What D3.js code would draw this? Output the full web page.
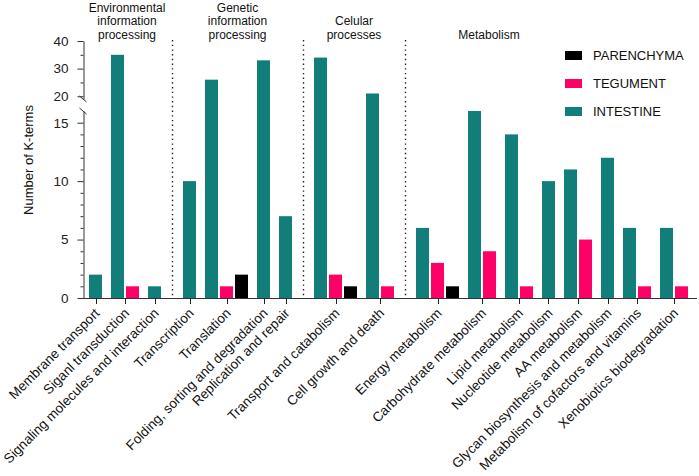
<!DOCTYPE html>
<html>
<head>
<meta charset="utf-8">
<script src="https://cdn.jsdelivr.net/npm/d3@7"></script>
<style>
  html, body { margin: 0; padding: 0; background: #fff; }
  svg { display: block; font-family: "Liberation Sans", Arial, sans-serif; }
</style>
</head>
<body>
<svg id="chart" width="699" height="476"></svg>
<script>
// ---------------- data ----------------
const categories = [
  "Membrane transport", "Siganl transduction", "Signaling molecules and interaction",
  "Transcription", "Translation", "Folding, sorting and degradation", "Replication and repair",
  "Transport and catabolism", "Cell growth and death",
  "Energy metabolism", "Carbohydrate metabolism", "Lipid metabolism", "Nucleotide metabolism",
  "AA metabolism", "Glycan biosynthesis and metabolism", "Metabolism of cofactors and vitamins",
  "Xenobiotics biodegradation"
];
const groupOfCategory = [0,0,0, 1,1,1,1, 2,2, 3,3,3,3,3,3,3,3];
const groupNames = [
  ["Environmental", "information", "processing"],
  ["Genetic", "information", "processing"],
  ["Celular", "processes"],
  ["Metabolism"]
];
const seriesNames = ["PARENCHYMA", "TEGUMENT", "INTESTINE"];
const seriesColors = ["#000000", "#FF0066", "#127E7A"];
const parenchyma = [0,0,0, 0,2,0,0, 1,0, 1,0,0,0,0,0,0,0];
const tegument   = [0,1,0, 0,1,0,0, 2,1, 3,4,1,0,5,0,1,1];
const intestine  = [2,35,1, 10,26,33,7, 34,21, 6,16,14,10,11,12,6,6];
const lowTicks = [0, 5, 10, 15];
const highTicks = [20, 30, 40];

// ---------------- layout ----------------
const svg = d3.select("#chart");
const font = "\"Liberation Sans\", Arial, sans-serif";
const axisX = 83, baseY = 298;

// slot layout: each non-zero bar takes one slot; gaps between categories / groups
const catGap = 7 / 15, groupGap = 20 / 15, barFrac = 13 / 15;
const bars = [];
const catInfo = [];
let cursor = 0;
categories.forEach((c, i) => {
  if (i > 0) cursor += (groupOfCategory[i] === groupOfCategory[i - 1]) ? catGap : groupGap;
  const start = cursor;
  // drawing order: intestine, tegument, parenchyma (non-zero only)
  [[2, intestine[i]], [1, tegument[i]], [0, parenchyma[i]]].forEach(([s, v]) => {
    if (v > 0) { bars.push({cat: i, series: s, value: v, slot: cursor}); cursor += 1; }
  });
  catInfo.push({start, end: cursor - (1 - barFrac)});
});
const totalSlots = cursor;
const x = d3.scaleLinear().domain([0, totalSlots]).range([89, 89 + 15 * totalSlots]);

// broken y scale
const yLow = d3.scaleLinear().domain([0, 16]).range([baseY, 111]);
const yHigh = d3.scaleLinear().domain([19, 40]).range([99, 41]);
const y = v => (v <= 16 ? yLow(v) : yHigh(v));

// ---------------- separators ----------------
const groupBounds = groupNames.map((g, gi) => {
  const idx = categories.map((c, i) => i).filter(i => groupOfCategory[i] === gi);
  return {start: catInfo[idx[0]].start, end: catInfo[idx[idx.length - 1]].end};
});
for (let gi = 1; gi < groupBounds.length; gi++) {
  const sx = Math.round((x(groupBounds[gi - 1].end) + x(groupBounds[gi].start)) / 2) + 0.5;
  svg.append("line")
    .attr("x1", sx).attr("x2", sx).attr("y1", 40).attr("y2", baseY)
    .attr("stroke", "#222").attr("stroke-width", 1.4)
    .attr("stroke-dasharray", "1.4,3.3");
}

// ---------------- bars ----------------
svg.append("g").selectAll("rect").data(bars).join("rect")
  .attr("x", d => x(d.slot))
  .attr("width", x(barFrac) - x(0))
  .attr("y", d => y(d.value))
  .attr("height", d => baseY - y(d.value))
  .attr("fill", d => seriesColors[d.series]);

// ---------------- y axis ----------------
svg.append("g").attr("transform", `translate(${axisX + 0.5},0)`)
  .call(d3.axisLeft(yLow).tickValues(lowTicks).tickSize(6).tickSizeOuter(0).tickPadding(9));
svg.append("g").attr("transform", `translate(${axisX + 0.5},0)`)
  .call(d3.axisLeft(yHigh).tickValues(highTicks).tickSize(6).tickSizeOuter(0).tickPadding(9));
const lowMinor = d3.range(1, 16).filter(v => v % 5 !== 0);
svg.append("g").attr("transform", `translate(${axisX + 0.5},0)`)
  .call(d3.axisLeft(yLow).tickValues(lowMinor).tickSize(3).tickSizeOuter(0).tickFormat(""))
  .select(".domain").remove();
svg.append("g").attr("transform", `translate(${axisX + 0.5},0)`)
  .call(d3.axisLeft(yHigh).tickValues([25, 35]).tickSize(3).tickSizeOuter(0).tickFormat(""))
  .select(".domain").remove();
svg.selectAll(".tick text").attr("font-family", font).attr("font-size", 13.5).attr("fill", "#222");
svg.selectAll(".domain, .tick line").attr("stroke", "#333");

// break marks
[yHigh(19), yLow(16)].forEach(by => {
  svg.append("line")
    .attr("x1", axisX - 3.5).attr("x2", axisX + 3.5)
    .attr("y1", by - 3).attr("y2", by + 3)
    .attr("stroke", "#333").attr("stroke-width", 1);
});

// y title
svg.append("text")
  .attr("transform", `translate(33,160) rotate(-90)`)
  .attr("text-anchor", "middle")
  .attr("font-family", font).attr("font-size", 13).attr("fill", "#111")
  .text("Number of K-terms");

// ---------------- x axis ----------------
const catCenters = catInfo.map(c => (x(c.start) + x(c.end)) / 2);
const xg = svg.append("g");
xg.append("line").attr("x1", axisX).attr("x2", 697).attr("y1", baseY + 0.5).attr("y2", baseY + 0.5)
  .attr("stroke", "#333");
xg.selectAll("line.tk").data(catCenters).join("line").attr("class", "tk")
  .attr("x1", d => Math.round(d) + 0.5).attr("x2", d => Math.round(d) + 0.5)
  .attr("y1", baseY).attr("y2", baseY + 6).attr("stroke", "#222");
xg.selectAll("text").data(categories).join("text")
  .attr("transform", (d, i) => `translate(${catCenters[i] + 5},${baseY + 16}) rotate(-45)`)
  .attr("text-anchor", "end")
  .attr("font-family", font).attr("font-size", 13.5).attr("fill", "#111")
  .text(d => d);

// ---------------- group headers ----------------
const headerX = groupBounds.map(b => (x(b.start) + x(b.end)) / 2);
headerX[0] += 2;
headerX[3] = x(groupBounds[3].start) + 73;
groupNames.forEach((lines, gi) => {
  const t = svg.append("text").attr("text-anchor", "middle")
    .attr("font-family", font).attr("font-size", 12).attr("fill", "#111");
  const startLine = 3 - lines.length;
  lines.forEach((ln, li) => {
    t.append("tspan").attr("x", headerX[gi]).attr("y", 11.5 + 13.5 * (startLine + li)).text(ln);
  });
});

// ---------------- legend ----------------
const legend = svg.append("g");
seriesNames.forEach((n, i) => {
  legend.append("rect").attr("x", 565).attr("y", 51 + 28 * i).attr("width", 17).attr("height", 9)
    .attr("fill", seriesColors[i]);
  legend.append("text").attr("x", 593).attr("y", 60 + 28 * i)
    .attr("font-family", font).attr("font-size", 13).attr("fill", "#111").text(n);
});
</script>
</body>
</html>
